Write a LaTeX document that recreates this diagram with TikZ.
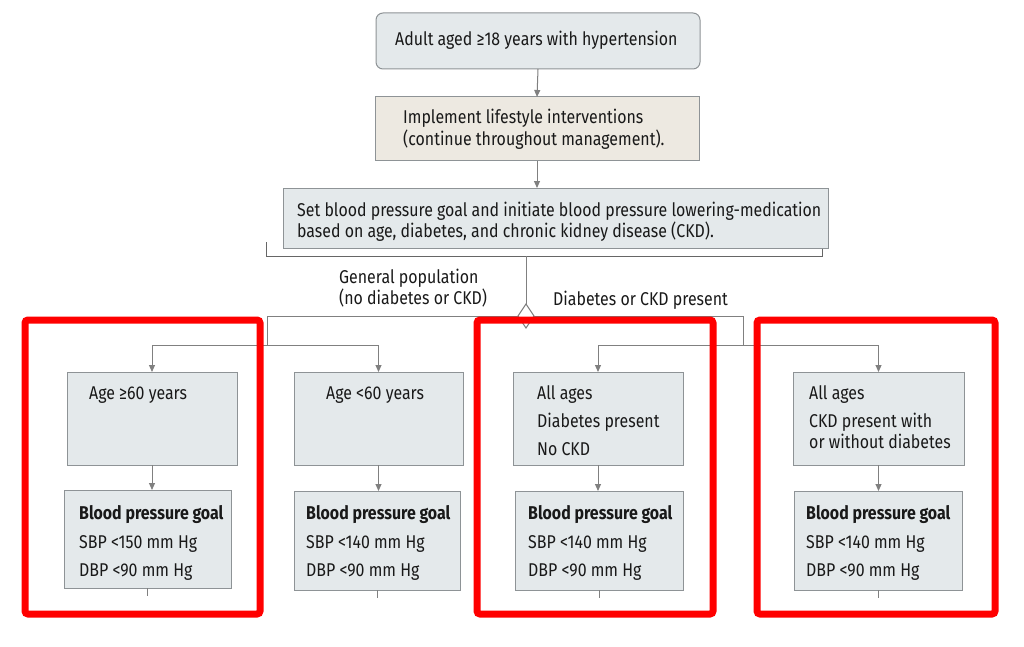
\documentclass[tikz,border=0pt]{standalone}
\usepackage{fontspec}
\setmainfont[FakeStretch=0.86]{Fira Sans}
\usetikzlibrary{arrows.meta,shapes.geometric}
\definecolor{boxfill}{HTML}{E4E9EB}
\definecolor{beigefill}{HTML}{EDE9E1}
\definecolor{edgec}{HTML}{8E9396}
\definecolor{linec}{HTML}{808080}
\definecolor{redc}{HTML}{FF0000}
\newcommand\mkbox[6]{%
  \node[#1, minimum width={(#5-#3)*1pt}, minimum height={(#6-#4)*1pt}] (#2) at ({(#3+#5)/2},{(#4+#6)/2}) {};}
\begin{document}
\begin{tikzpicture}[x=1pt,y=-1pt,
  box/.style={draw=edgec, fill=boxfill, line width=1pt, inner sep=0pt, outer sep=0pt},
  rbox/.style={box, rounded corners=7pt},
  bbox/.style={box, fill=beigefill},
  txt/.style={anchor=base west, inner sep=0pt, font=\fontsize{18.5}{22}\selectfont, text=black!90},
  conn/.style={draw=linec, line width=1pt},
  arr/.style={conn, -{Triangle[length=7pt,width=6pt]}},
  redframe/.style={draw=redc, line width=7pt, rounded corners=3pt},
  dia/.style={diamond, draw=linec, fill=white, line width=1pt, minimum width=16pt, minimum height=24pt, inner sep=0pt, outer sep=0pt}
]
\useasboundingbox (0,0) rectangle (1024,647);
\fill[white] (0,0) rectangle (1024,647);

% top boxes
\mkbox{rbox}{b1}{376}{13}{700}{69}
\mkbox{bbox}{b2}{375}{97}{699}{161}
\mkbox{box}{b3}{283}{188}{828}{248}
\draw[conn, draw=black!60] (266,242) -- (266,256) -- (822,256) -- (822,249);

\node[txt] (t1) at (395,46) {Adult aged ≥18 years with hypertension};
\node[txt] (t2a) at (403,124) {Implement lifestyle interventions};
\node[txt] (t2b) at (403,146) {(continue throughout management).};
\node[txt] (t3a) at (297,216) {Set blood pressure goal and initiate blood pressure lowering-medication};
\node[txt] (t3b) at (297,237) {based on age, diabetes, and chronic kidney disease (CKD).};

\draw[arr] (b1.south) -- (b2.north);
\draw[arr] (b2.south) -- (b2.south |- b3.north);

% decision
\node[dia] (dm) at (526,316) {};
\draw[conn] (dm.north |- 0,256) -- (dm.north);
\coordinate (jl) at (267,345);
\coordinate (jr) at (743,345);
\draw[conn] (dm.west) -| (jl);
\draw[conn] (dm.east) -| (jr);

\node[txt] (lg1) at (339,283) {General population};
\node[txt] (lg2) at (339,304) {(no diabetes or CKD)};
\node[txt] (ld) at (553,305) {Diabetes or CKD present};

% condition boxes
\mkbox{box}{cA}{67}{372}{237}{465}
\mkbox{box}{cB}{294}{372}{463}{465}
\mkbox{box}{cC}{513}{372}{683}{465}
\mkbox{box}{cD}{793}{372}{964}{465}
\draw[arr] (jl) -| (cA.north);
\draw[arr] (jl) -| (cB.north);
\draw[arr] (jr) -| (cC.north);
\draw[arr] (jr) -| (cD.north);

\node[txt] (ca) at (89,399) {Age ≥60 years};
\node[txt] (cb) at (326,399) {Age <60 years};
\node[txt] (cc1) at (537,399) {All ages};
\node[txt] (cc2) at (537,427) {Diabetes present};
\node[txt] (cc3) at (537,455) {No CKD};
\node[txt] (cd1) at (809,399) {All ages};
\node[txt] (cd2) at (809,427) {CKD present with};
\node[txt] (cd3) at (809,448) {or without diabetes};

% goal boxes
\mkbox{box}{gA}{64}{490}{231}{588}
\mkbox{box}{gB}{294}{491}{460}{590}
\mkbox{box}{gC}{515}{491}{683}{590}
\mkbox{box}{gD}{794}{491}{962}{590}
\draw[arr] (cA.south) -- (cA.south |- gA.north);
\draw[arr] (cB.south) -- (cB.south |- gB.north);
\draw[arr] (cC.south) -- (cC.south |- gC.north);
\draw[arr] (cD.south) -- (cD.south |- gD.north);
\foreach \g in {gA,gB,gC,gD} \draw[conn] (\g.south) -- ++(0,8);

\foreach \n/\x/\s in {A/79/150,B/306/140,C/528/140,D/806/140}{
  \node[txt, font=\fontsize{18.5}{22}\selectfont\bfseries] (gh\n) at (\x,519) {Blood pressure goal};
  \node[txt] (gs\n) at (\x,548) {SBP <\s\ mm Hg};
  \node[txt] (gd\n) at (\x,576) {DBP <90 mm Hg};
}

% red frames
\draw[redframe] (25,320) rectangle (260,614);
\draw[redframe] (477,320) rectangle (713,614);
\draw[redframe] (757,320) rectangle (995,614);
\end{tikzpicture}
\end{document}
